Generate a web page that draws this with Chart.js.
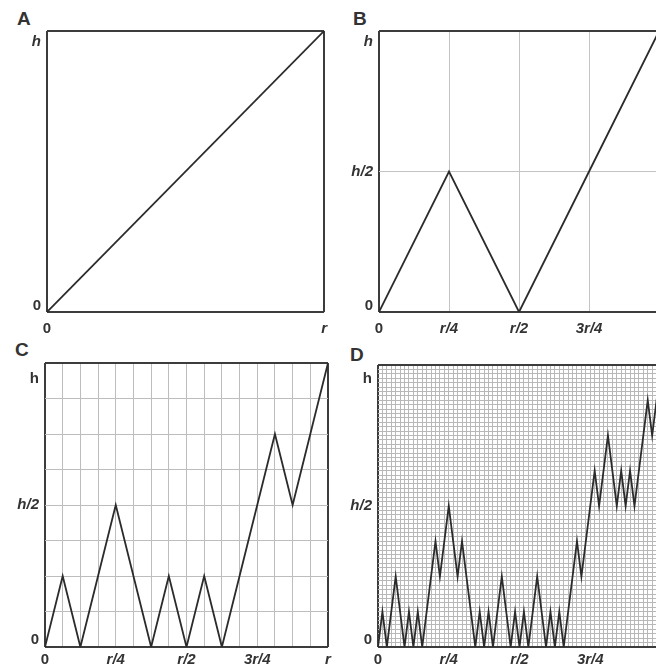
<!DOCTYPE html>
<html>
<head>
<meta charset="utf-8">
<script src="https://cdn.jsdelivr.net/npm/chart.js@4.4.0/dist/chart.umd.min.js"></script>
<style>
  html, body { margin: 0; padding: 0; width: 656px; height: 668px; overflow: hidden; background: #fff; }
  canvas { position: absolute; }
  .tag { position: absolute; font: bold 19px 'Liberation Sans', Arial, sans-serif; line-height: 19px; color: #333; }
</style>
</head>
<body>
<div class="tag" style="left:17px;top:9px">A</div>
<div class="tag" style="left:353px;top:9px">B</div>
<div class="tag" style="left:15px;top:340px">C</div>
<div class="tag" style="left:350px;top:345px">D</div>
<canvas id="chartA" width="335" height="345" style="left:0;top:0"></canvas>
<canvas id="chartB" width="335" height="345" style="left:335px;top:0"></canvas>
<canvas id="chartC" width="335" height="333" style="left:0;top:335px"></canvas>
<canvas id="chartD" width="335" height="333" style="left:335px;top:335px"></canvas>
<script>
// heights at each step, A in units of h, B of h/2, C of h/4, D of h/8
const aHeights = [0, 1];
const bHeights = [0, 1, 0, 1, 2];
const cHeights = [0, 1, 0, 1, 2, 1, 0, 1, 0, 1, 0, 1, 2, 3, 2, 3, 4];
const dHeights = [
  0,
  1, 0, 1, 2,  1, 0, 1, 0,  1, 0, 1, 2,  3, 2, 3, 4,
  3, 2, 3, 2,  1, 0, 1, 0,  1, 0, 1, 2,  1, 0, 1, 0,
  1, 0, 1, 2,  1, 0, 1, 0,  1, 0, 1, 2,  3, 2, 3, 4,
  5, 4, 5, 6,  5, 4, 5, 4,  5, 4, 5, 6,  7, 6, 7, 8
];

const xLabelsA = ['0', 'r'];
const yLabelsA = ['0', 'h'];
const xLabels = ['0', 'r/4', 'r/2', '3r/4', 'r'];
const yLabelsB = ['0', 'h/2', 'h'];

const ink = '#333';
const frameColor = '#3c3c3c';

function tickFont(upright) {
  return (ctx) => ({
    family: "'Liberation Sans', Arial, sans-serif",
    size: 15,
    weight: 'bold',
    style: upright.includes(ctx.tick && ctx.tick.label) ? 'normal' : 'italic'
  });
}

function panel(id, heights, cfg) {
  const n = heights.length - 1;
  const top = Math.max(...heights);
  const xGrid = [];
  for (let i = 0; i <= cfg.cols; i++) xGrid.push(i * n / cfg.cols);
  const yGrid = [];
  for (let j = 0; j <= cfg.rows; j++) yGrid.push(j * top / cfg.rows);
  const xText = new Map(cfg.xLabels.map((t, k) => [k * n / (cfg.xLabels.length - 1), t]));
  const yPos = cfg.yLabelPos.map(f => f * top);

  const gridColor = (ctx) => (ctx.tick.value === 0 || ctx.tick.value === ctx.scale.max) ? frameColor : cfg.gridColor;
  const gridWidth = (ctx) => (ctx.tick.value === 0 || ctx.tick.value === ctx.scale.max) ? 2 : 1;

  return new Chart(document.getElementById(id), {
    type: 'line',
    data: {
      datasets: [{
        data: heights.map((v, i) => ({ x: i, y: v })),
        borderColor: '#2b2b2b',
        borderWidth: 1.8,
        pointRadius: 0,
        tension: 0,
        fill: false
      }]
    },
    options: {
      responsive: false,
      animation: false,
      devicePixelRatio: 1,
      layout: { padding: cfg.pad },
      plugins: { legend: { display: false }, tooltip: { enabled: false } },
      scales: {
        x: {
          type: 'linear', min: 0, max: n,
          afterBuildTicks: (s) => { s.ticks = xGrid.map(v => ({ value: v })); },
          afterFit: (s) => { s.height = cfg.xh; },
          grid: { color: gridColor, lineWidth: gridWidth, drawTicks: false },
          border: { display: false },
          ticks: {
            autoSkip: false, maxRotation: 0, padding: cfg.xPad, color: ink,
            font: tickFont(['0']),
            callback: (v) => xText.get(v) ?? ''
          }
        },
        y: {
          type: 'linear', min: 0, max: top, position: 'left',
          afterBuildTicks: (s) => { s.ticks = yGrid.map(v => ({ value: v })); },
          afterFit: (s) => { s.width = 0; },
          grid: { color: gridColor, lineWidth: gridWidth, drawTicks: false },
          border: { display: false },
          ticks: { display: false }
        },
        yl: {
          type: 'linear', min: 0, max: top, position: 'left',
          afterBuildTicks: (s) => { s.ticks = yPos.map(v => ({ value: v })); },
          afterFit: (s) => { s.width = cfg.yw; },
          grid: { display: false, drawTicks: false },
          border: { display: false },
          ticks: {
            padding: 6, color: ink,
            font: tickFont(cfg.uprightY),
            callback: (v, i) => cfg.yLabels[i]
          }
        }
      }
    }
  });
}

panel('chartA', aHeights, {
  cols: 1, rows: 1, xLabels: xLabelsA, yLabels: yLabelsA, yLabelPos: [0.021, 0.962],
  uprightY: ['0'], gridColor: '#c4c4c4',
  pad: { top: 31, right: 6, left: 0, bottom: 0 }, yw: 47, xh: 33, xPad: 8
});
panel('chartB', bHeights, {
  cols: 4, rows: 2, xLabels: xLabels, yLabels: yLabelsB, yLabelPos: [0.021, 0.5, 0.962],
  uprightY: ['0'], gridColor: '#c4c4c4',
  pad: { top: 31, right: 9, left: 0, bottom: 0 }, yw: 44, xh: 33, xPad: 8
});
panel('chartC', cHeights, {
  cols: 16, rows: 8, xLabels: xLabels, yLabels: yLabelsB, yLabelPos: [0.025, 0.5, 0.944],
  uprightY: ['0', 'h'], gridColor: '#bdbdbd',
  pad: { top: 28, right: 7, left: 0, bottom: 0 }, yw: 45, xh: 21, xPad: 4
});
panel('chartD', dHeights, {
  cols: 64, rows: 64, xLabels: xLabels, yLabels: yLabelsB, yLabelPos: [0.025, 0.5, 0.95],
  uprightY: ['0', 'h'], gridColor: '#b8b8b8',
  pad: { top: 30, right: 9, left: 0, bottom: 0 }, yw: 43, xh: 21, xPad: 4
});
</script>
</body>
</html>
